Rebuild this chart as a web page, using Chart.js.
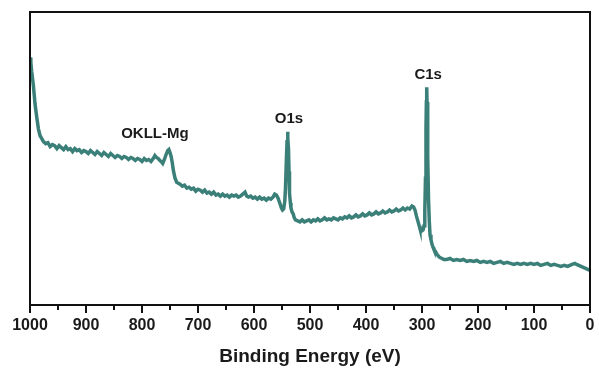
<!DOCTYPE html>
<html>
<head>
<meta charset="utf-8">
<script src="https://cdn.jsdelivr.net/npm/chart.js@4/dist/chart.umd.min.js"></script>
<style>
    html, body { margin: 0; padding: 0; background: #fff; }
    #wrap { width: 599px; height: 372px; position: relative; }
</style>
</head>
<body>
<div id="wrap"><canvas id="grafico"></canvas></div>
<script>
const energia = [
    1000, 998.5, 997, 994, 991, 988, 985, 982, 980, 978,
    976, 972, 968, 964, 960, 956, 952, 948, 944, 940,
    936, 932, 928, 924, 920, 916, 912, 908, 904, 900,
    896, 892, 888, 884, 880, 876, 872, 868, 864, 860,
    856, 852, 848, 844, 840, 836, 832, 828, 824, 820,
    816, 812, 808, 804, 800, 796, 792, 788, 784, 780,
    777, 774, 771, 768, 766, 763, 760, 757, 754, 752, 750, 748, 746, 744, 741, 738, 735,
    732, 728, 724, 720, 716, 712, 708, 704, 700, 696,
    692, 688, 684, 680, 676, 672, 668, 664, 660, 656,
    652, 648, 644, 640, 636, 632, 628, 624, 620, 616,
    613, 610, 606, 602, 598, 594, 590, 586, 582, 578,
    574, 570, 566, 563, 560, 557, 554, 551, 549, 547,
    545, 543.8, 542, 541, 540, 539.3, 538.4, 537.5, 536.6, 535, 534, 532, 530, 528, 526,
    522, 518, 514, 510, 506, 502, 498, 494, 490, 486,
    482, 478, 474, 470, 466, 462, 458, 454, 450, 446,
    442, 438, 434, 430, 426, 422, 418, 414, 410, 406,
    402, 398, 394, 390, 386, 382, 378, 374, 370, 366,
    362, 358, 354, 350, 346, 342, 338, 334, 330, 326,
    322, 318, 315, 312.5, 310, 307, 305, 303.6, 302, 300, 298, 296.4, 295,
    293.8, 292.9, 292.2, 291.6, 291, 290.2, 289.4, 288.4, 287, 285.7,
    284, 282, 280, 278.6, 276, 273, 270, 268, 264, 261,
    256, 250, 244, 238, 232, 226, 220, 214, 208, 202,
    196, 190, 184, 178, 172, 166, 160, 154, 148, 142,
    136, 130, 124, 118, 112, 106, 100, 94, 88, 82,
    76, 70, 64, 58, 52, 46, 40, 36, 32, 27,
    24, 20, 16, 12, 8, 4, 0
];
const intensidade = [
    250, 245, 236, 222, 203, 190, 178, 171, 169, 167,
    165, 163, 164, 160, 162, 161, 158, 161, 159, 157,
    160, 157, 158, 155, 158, 156, 157, 154, 156, 155,
    153, 156, 154, 152, 155, 153, 151, 154, 152, 150,
    153, 151, 149, 151, 150, 148, 150, 149, 147, 149,
    148, 146, 148, 147, 145, 148, 146, 147, 145, 148,
    151, 149, 148, 146, 145, 143, 147, 152, 156, 157, 154, 150, 144, 136, 128, 124, 123,
    122, 120, 121, 118, 119, 117, 118, 115, 117, 116,
    114, 116, 113, 114, 112, 114, 111, 112, 110, 112,
    110, 111, 109, 111, 110, 111, 109, 110, 112, 114,
    110, 109, 110, 108, 109, 107, 109, 107, 108, 106,
    108, 107, 109, 112, 111, 108, 103, 98, 96, 97,
    105, 118, 150, 165, 175, 168, 158, 135, 113, 103, 98, 94, 92, 88, 86,
    85, 84, 86, 84, 85, 86, 84, 86, 85, 87,
    85, 86, 88, 86, 87, 86, 88, 87, 86, 88,
    87, 89, 88, 90, 88, 89, 91, 89, 90, 92,
    90, 91, 93, 91, 92, 94, 92, 93, 95, 93,
    94, 96, 94, 95, 97, 95, 96, 98, 96, 98,
    97, 100, 99, 96, 90, 84, 80, 77, 76, 75, 76, 80, 95,
    128, 178, 205, 220, 205, 178, 150, 108, 85, 71,
    66, 61, 58, 56, 54, 51, 49, 48, 47, 46,
    46, 47, 45, 46, 45, 46, 44, 45, 44, 45,
    43, 44, 43, 44, 42, 43, 44, 42, 43, 42,
    41, 42, 41, 42, 41, 42, 41, 42, 40, 41,
    42, 40, 41, 40, 39, 40, 39, 40, 41, 42,
    41, 40, 39, 38, 37, 36, 35
];

// rótulos dos picos
const picosTexto = ['OKLL-Mg', 'O1s', 'C1s'];
const picosEnergia = [777, 537.5, 289];
const picosIntensidade = [173, 188, 232];

// ticks do eixo x
const ticksMaiores = [1000, 900, 800, 700, 600, 500, 400, 300, 200, 100, 0];
const ticksMenores = [950, 850, 750, 650, 550, 450, 350, 250, 150, 50];

const FONTE = "Arial, 'Liberation Sans', sans-serif";
const COR_LINHA = '#3b7f79';

// moldura + ticks menores + rótulos dos picos
const pluginExtras = {
    id: 'extras',
    afterDraw(chart) {
        const { ctx, chartArea: a, scales: { x, y } } = chart;
        ctx.save();
        ctx.strokeStyle = '#111';
        ctx.lineWidth = 2;
        ctx.strokeRect(a.left, a.top, a.right - a.left, a.bottom - a.top);

        ctx.beginPath();
        ticksMenores.forEach((v) => {
            const px = Math.round(x.getPixelForValue(v));
            ctx.moveTo(px, a.bottom);
            ctx.lineTo(px, a.bottom + 5);
        });
        ctx.stroke();

        ctx.fillStyle = '#1a1a1a';
        ctx.font = 'bold 15px ' + FONTE;
        ctx.textAlign = 'center';
        ctx.textBaseline = 'middle';
        picosTexto.forEach((t, i) => {
            ctx.fillText(t, x.getPixelForValue(picosEnergia[i]), y.getPixelForValue(picosIntensidade[i]));
        });
        ctx.restore();
    },
};

document.addEventListener('DOMContentLoaded', () => {
    const pontos = energia.map((e, i) => ({ x: e, y: intensidade[i] }));
    const ctx = document.getElementById('grafico').getContext('2d');

    new Chart(ctx, {
        type: 'line',
        data: {
            datasets: [{
                data: pontos,
                borderColor: COR_LINHA,
                borderWidth: 3.5,
                pointRadius: 0,
                tension: 0,
                fill: false,
            }],
        },
        options: {
            responsive: true,
            maintainAspectRatio: false,
            animation: false,
            layout: { padding: { left: 30, right: 9, top: 12, bottom: 4 } },
            plugins: { legend: { display: false }, tooltip: { enabled: false } },
            scales: {
                x: {
                    type: 'linear',
                    min: 0,
                    max: 1000,
                    reverse: true,
                    afterBuildTicks: (s) => { s.ticks = ticksMaiores.map((v) => ({ value: v })); },
                    ticks: {
                        color: '#1a1a1a',
                        font: { family: FONTE, size: 16, weight: 'bold' },
                        padding: 3,
                        maxRotation: 0,
                        callback: (v) => String(v),
                    },
                    grid: {
                        drawOnChartArea: false,
                        tickLength: 8,
                        tickColor: '#111',
                        lineWidth: 2,
                    },
                    border: { color: '#111', width: 2 },
                    title: {
                        display: true,
                        text: 'Binding Energy (eV)',
                        color: '#1a1a1a',
                        font: { family: FONTE, size: 19, weight: 'bold' },
                        padding: { top: 7, bottom: 0 },
                    },
                },
                y: {
                    display: false,
                    min: 0,
                    max: 296,
                },
            },
        },
        plugins: [pluginExtras],
    });
});
</script>
</body>
</html>
